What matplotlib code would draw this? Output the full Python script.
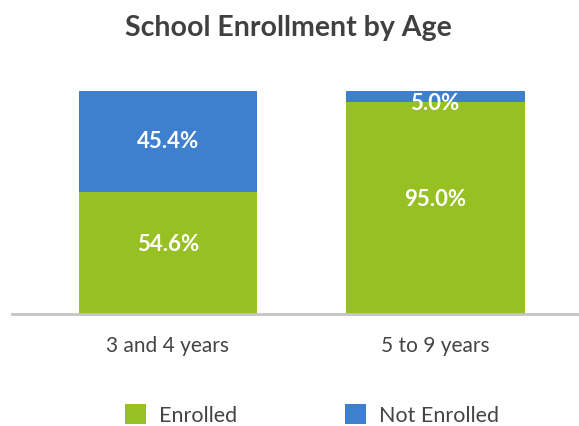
import matplotlib
matplotlib.use("Agg")
import matplotlib.pyplot as plt
from matplotlib.patches import Patch

plt.rcParams["font.family"] = ["Lato", "DejaVu Sans"]

ages = ["3 and 4 years", "5 to 9 years"]
enrolled = [54.6, 95.0]
not_enrolled = [45.4, 5.0]

GREEN = "#97c023"
BLUE = "#3f80ce"

W, H = 579, 426
fig = plt.figure(figsize=(W / 100, H / 100), dpi=100)
ax = fig.add_axes([12 / W, 1 - 314 / H, 1 - 12 / W, (314 - 91) / H])

x = list(range(len(ages)))
bw = 0.67
ax.bar(x, enrolled, width=bw, color=GREEN, zorder=2)
ax.bar(x, not_enrolled, width=bw, bottom=enrolled, color=BLUE, zorder=2)

# segment labels; enrolled ones sit a little above centre, a thin top slice pushes its label down
for i in x:
    ax.annotate(f"{enrolled[i]:.1f}%", (i, enrolled[i] / 2), xytext=(0, 6), textcoords="offset points",
                ha="center", va="center", color="white", fontsize=16, fontweight="bold", zorder=3)
    dy = -5 if not_enrolled[i] < 10 else 0
    ax.annotate(f"{not_enrolled[i]:.1f}%", (i, enrolled[i] + not_enrolled[i] / 2), xytext=(0, dy),
                textcoords="offset points", ha="center", va="center", color="white",
                fontsize=16, fontweight="bold", zorder=3)

ax.set_xlim(-0.584, 1.539)
ax.set_ylim(0, 100)
ax.set_yticks([])
ax.set_xticks(x)
ax.set_xticklabels(ages, fontsize=15, color="#444444")
ax.tick_params(axis="x", length=0, pad=16)
for s in ["top", "right", "left"]:
    ax.spines[s].set_visible(False)
ax.spines["bottom"].set_color("#c4c4c4")
ax.spines["bottom"].set_linewidth(2)

fig.text(288 / W, 1 - 28 / H, "School Enrollment by Age", ha="center", va="center",
         fontsize=20.5, fontweight="bold", color="#404040")

handles = [Patch(facecolor=GREEN, label="Enrolled"), Patch(facecolor=BLUE, label="Not Enrolled")]
fig.legend(handles=handles, loc="center", bbox_to_anchor=(312 / W, 1 - 415 / H), ncol=2,
           frameon=False, fontsize=15.5, handlelength=1.0, handleheight=1.0,
           handletextpad=0.6, columnspacing=5.0, labelcolor="#444444")

fig.savefig("out.png", dpi=100)
